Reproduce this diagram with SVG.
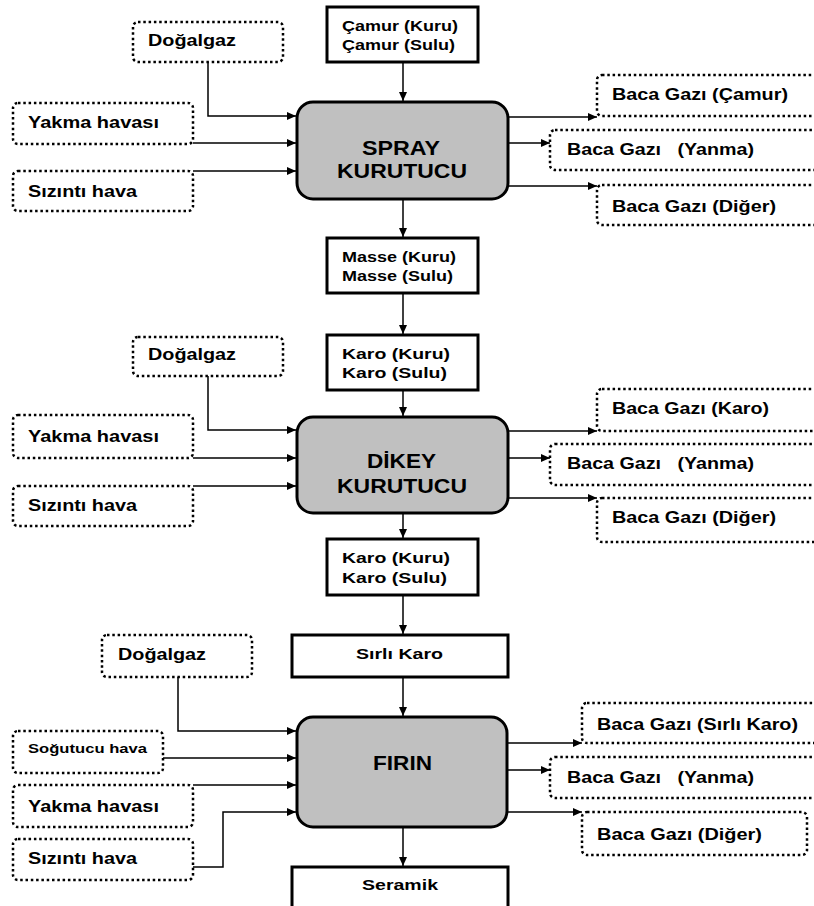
<svg xmlns="http://www.w3.org/2000/svg" width="814" height="906" viewBox="0 0 814 906">
<defs>
<style>
.solid{fill:#fff;stroke:#000;stroke-width:3}
.proc{fill:#c0c0c0;stroke:#000;stroke-width:3}
.dot{fill:#fff;stroke:#000;stroke-width:2.5;stroke-dasharray:2.5 2.8}
.t{font-family:"Liberation Sans",Arial,sans-serif;font-weight:bold;font-size:17px;fill:#000;white-space:pre}
.s{font-size:15.5px}
.b{font-size:21px}
.m{font-size:13.5px}
.c path{fill:none;stroke:#000;stroke-width:1.5;marker-end:url(#ah)}
</style>
<marker id="ah" markerUnits="userSpaceOnUse" markerWidth="10" markerHeight="8" refX="9" refY="4" orient="auto">
<path d="M0,0 L9,4 L0,8 Z" fill="#000"/>
</marker>
</defs>

<g id="connectors" class="c">
<path d="M403,62 V101"/>
<path d="M208,62 V116 H296"/>
<path d="M193,143 H296"/>
<path d="M193,171 H296"/>
<path d="M508,117 H597"/>
<path d="M508,143 H550"/>
<path d="M508,186 H597"/>
<path d="M403,199 V237"/>
<path d="M403,293 V334"/>
<path d="M403,390 V416"/>
<path d="M208,376 V430 H296"/>
<path d="M193,458 H296"/>
<path d="M193,486 H296"/>
<path d="M508,431 H597"/>
<path d="M508,458 H550"/>
<path d="M508,498 H597"/>
<path d="M403,513 V538"/>
<path d="M403,595 V634"/>
<path d="M403,677 V716"/>
<path d="M178,677 V731 H296"/>
<path d="M163,758 H296"/>
<path d="M193,785 H296"/>
<path d="M193,867 H223 V812 H296"/>
<path d="M507,743 H582"/>
<path d="M507,770 H550"/>
<path d="M507,812 H582"/>
<path d="M403,827 V866"/>
</g>

<g id="camur"><rect class="solid" x="327" y="7" width="151" height="55"/>
<text class="t s" x="342" y="31" textLength="116" lengthAdjust="spacingAndGlyphs">Çamur (Kuru)</text>
<text class="t s" x="342" y="50" textLength="113" lengthAdjust="spacingAndGlyphs">Çamur (Sulu)</text></g>

<g id="spray"><rect class="proc" x="297" y="102" width="211" height="97" rx="16"/>
<text class="t b" x="362" y="155" textLength="78" lengthAdjust="spacingAndGlyphs">SPRAY</text>
<text class="t b" x="337" y="178" textLength="130" lengthAdjust="spacingAndGlyphs">KURUTUCU</text></g>

<g id="dogalgaz1"><rect class="dot" x="133" y="22" width="150" height="40" rx="5"/>
<text class="t" x="148" y="46" textLength="88" lengthAdjust="spacingAndGlyphs">Doğalgaz</text></g>
<g id="yakma1"><rect class="dot" x="13" y="103" width="180" height="41" rx="5"/>
<text class="t" x="28" y="128" textLength="131" lengthAdjust="spacingAndGlyphs">Yakma havası</text></g>
<g id="sizinti1"><rect class="dot" x="13" y="171" width="180" height="40" rx="5"/>
<text class="t" x="28" y="197" textLength="109" lengthAdjust="spacingAndGlyphs">Sızıntı hava</text></g>

<g id="baca-camur"><rect class="dot" x="597" y="75" width="240" height="41" rx="5"/>
<text class="t" x="612" y="100" textLength="176" lengthAdjust="spacingAndGlyphs">Baca Gazı (Çamur)</text></g>
<g id="baca-yanma1"><rect class="dot" x="550" y="130" width="290" height="40" rx="5"/>
<text class="t" x="567" y="155" textLength="187" lengthAdjust="spacingAndGlyphs">Baca Gazı   (Yanma)</text></g>
<g id="baca-diger1"><rect class="dot" x="597" y="185" width="240" height="40" rx="5"/>
<text class="t" x="612" y="212" textLength="164" lengthAdjust="spacingAndGlyphs">Baca Gazı (Diğer)</text></g>

<g id="masse"><rect class="solid" x="327" y="238" width="151" height="55"/>
<text class="t s" x="342" y="262" textLength="114" lengthAdjust="spacingAndGlyphs">Masse (Kuru)</text>
<text class="t s" x="342" y="281" textLength="111" lengthAdjust="spacingAndGlyphs">Masse (Sulu)</text></g>

<g id="karo1"><rect class="solid" x="327" y="335" width="151" height="55"/>
<text class="t s" x="342" y="359" textLength="108" lengthAdjust="spacingAndGlyphs">Karo (Kuru)</text>
<text class="t s" x="342" y="378" textLength="105" lengthAdjust="spacingAndGlyphs">Karo (Sulu)</text></g>

<g id="dikey"><rect class="proc" x="297" y="417" width="211" height="96" rx="16"/>
<text class="t b" x="367" y="468" textLength="69" lengthAdjust="spacingAndGlyphs">DİKEY</text>
<text class="t b" x="337" y="493" textLength="130" lengthAdjust="spacingAndGlyphs">KURUTUCU</text></g>

<g id="dogalgaz2"><rect class="dot" x="133" y="337" width="150" height="39" rx="5"/>
<text class="t" x="148" y="360" textLength="88" lengthAdjust="spacingAndGlyphs">Doğalgaz</text></g>
<g id="yakma2"><rect class="dot" x="13" y="415" width="180" height="43" rx="5"/>
<text class="t" x="28" y="442" textLength="131" lengthAdjust="spacingAndGlyphs">Yakma havası</text></g>
<g id="sizinti2"><rect class="dot" x="13" y="486" width="180" height="40" rx="5"/>
<text class="t" x="28" y="511" textLength="109" lengthAdjust="spacingAndGlyphs">Sızıntı hava</text></g>

<g id="baca-karo"><rect class="dot" x="597" y="389" width="240" height="42" rx="5"/>
<text class="t" x="612" y="414" textLength="157" lengthAdjust="spacingAndGlyphs">Baca Gazı (Karo)</text></g>
<g id="baca-yanma2"><rect class="dot" x="550" y="444" width="290" height="41" rx="5"/>
<text class="t" x="567" y="469" textLength="187" lengthAdjust="spacingAndGlyphs">Baca Gazı   (Yanma)</text></g>
<g id="baca-diger2"><rect class="dot" x="597" y="498" width="240" height="44" rx="5"/>
<text class="t" x="612" y="523" textLength="164" lengthAdjust="spacingAndGlyphs">Baca Gazı (Diğer)</text></g>

<g id="karo2"><rect class="solid" x="327" y="539" width="151" height="56"/>
<text class="t s" x="342" y="563" textLength="108" lengthAdjust="spacingAndGlyphs">Karo (Kuru)</text>
<text class="t s" x="342" y="583" textLength="105" lengthAdjust="spacingAndGlyphs">Karo (Sulu)</text></g>

<g id="sirli-karo"><rect class="solid" x="292" y="635" width="216" height="42"/>
<text class="t s" x="356" y="659" textLength="87" lengthAdjust="spacingAndGlyphs">Sırlı Karo</text></g>

<g id="firin"><rect class="proc" x="297" y="717" width="210" height="110" rx="16"/>
<text class="t b" x="373" y="770" textLength="59" lengthAdjust="spacingAndGlyphs">FIRIN</text></g>

<g id="dogalgaz3"><rect class="dot" x="102" y="635" width="150" height="42" rx="5"/>
<text class="t" x="118" y="660" textLength="88" lengthAdjust="spacingAndGlyphs">Doğalgaz</text></g>
<g id="sogutucu"><rect class="dot" x="13" y="731" width="150" height="42" rx="5"/>
<text class="t m" x="28" y="753" textLength="119" lengthAdjust="spacingAndGlyphs">Soğutucu hava</text></g>
<g id="yakma3"><rect class="dot" x="13" y="785" width="180" height="42" rx="5"/>
<text class="t" x="28" y="812" textLength="131" lengthAdjust="spacingAndGlyphs">Yakma havası</text></g>
<g id="sizinti3"><rect class="dot" x="13" y="839" width="180" height="41" rx="5"/>
<text class="t" x="28" y="864" textLength="109" lengthAdjust="spacingAndGlyphs">Sızıntı hava</text></g>

<g id="baca-sirli"><rect class="dot" x="582" y="703" width="250" height="40" rx="5"/>
<text class="t" x="597" y="730" textLength="201" lengthAdjust="spacingAndGlyphs">Baca Gazı (Sırlı Karo)</text></g>
<g id="baca-yanma3"><rect class="dot" x="550" y="757" width="290" height="41" rx="5"/>
<text class="t" x="567" y="783" textLength="187" lengthAdjust="spacingAndGlyphs">Baca Gazı   (Yanma)</text></g>
<g id="baca-diger3"><rect class="dot" x="582" y="812" width="225" height="43" rx="5"/>
<text class="t" x="597" y="840" textLength="165" lengthAdjust="spacingAndGlyphs">Baca Gazı (Diğer)</text></g>

<g id="seramik"><rect class="solid" x="292" y="867" width="216" height="50"/>
<text class="t s" x="362" y="890" textLength="76" lengthAdjust="spacingAndGlyphs">Seramik</text></g>
</svg>
